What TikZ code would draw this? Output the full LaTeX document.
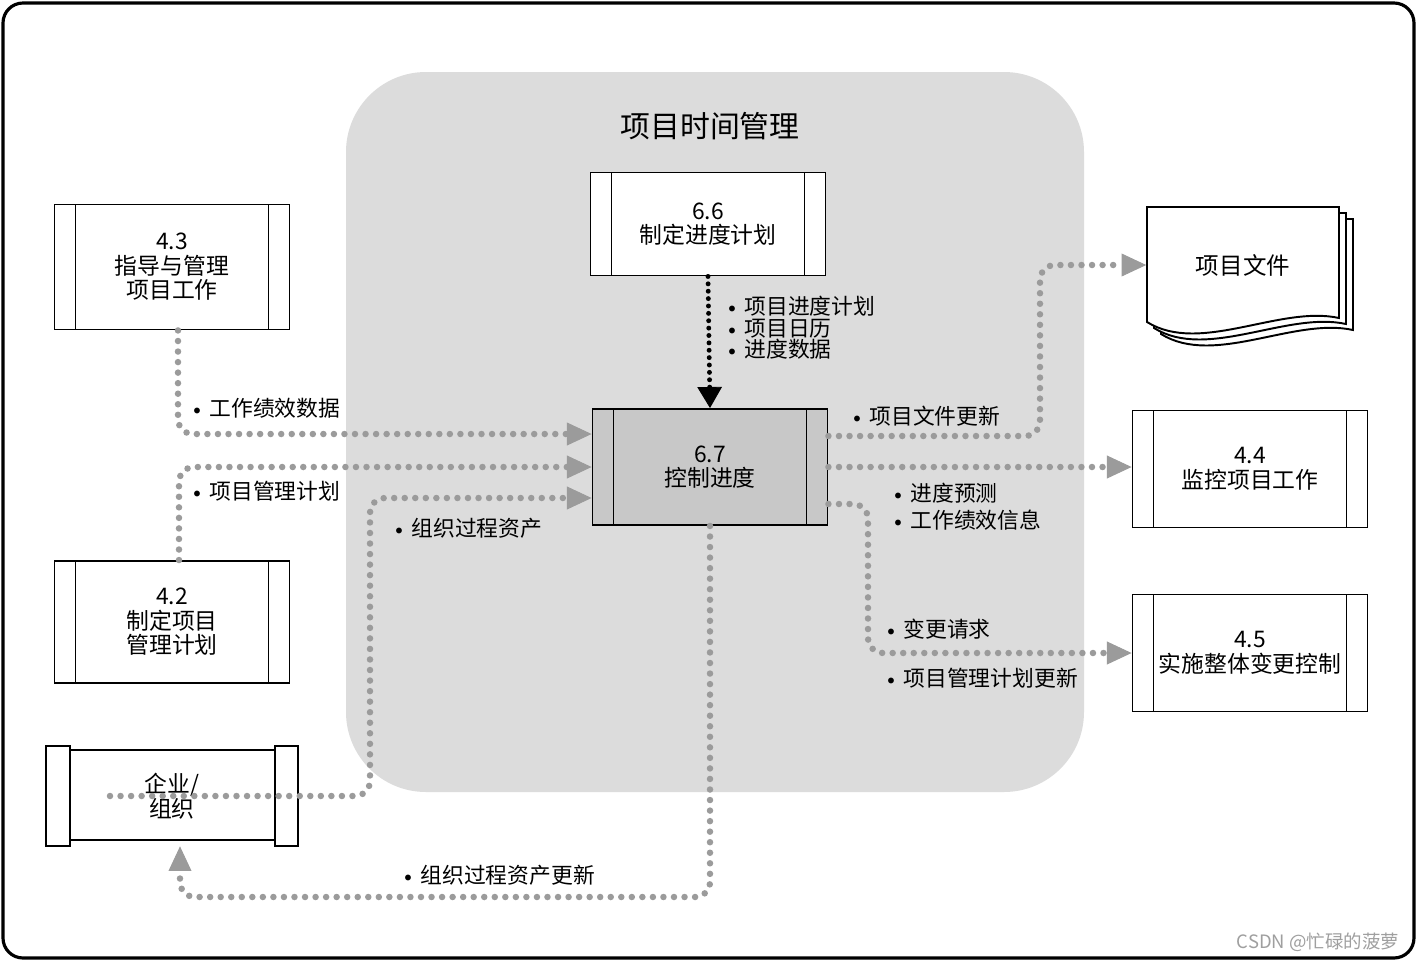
\documentclass[tikz,border=0pt]{standalone}
\usepackage{fontspec}
\setmainfont{Noto Sans CJK SC}
\usetikzlibrary{arrows.meta,calc}
\definecolor{zonegray}{RGB}{220,220,220}
\definecolor{boxgray}{RGB}{200,200,200}
\definecolor{dotgray}{RGB}{155,155,155}
\newcommand{\bul}{\raisebox{1.2pt}{\footnotesize$\bullet$}\hspace{5pt}}
\begin{document}
\begin{tikzpicture}[x=0.02cm,y=-0.02cm,
    proc/.style={draw,line width=1.1pt,fill=white,minimum width=4.7cm,align=center,
        font=\fontsize{13}{14}\selectfont,
        path picture={\draw[line width=1.1pt]
            ([xshift=0.42cm]path picture bounding box.north west) -- ([xshift=0.42cm]path picture bounding box.south west)
            ([xshift=-0.42cm]path picture bounding box.north east) -- ([xshift=-0.42cm]path picture bounding box.south east);}},
    lbl/.style={anchor=west,inner sep=0pt,align=left,font=\fontsize{12.4}{12.2}\selectfont},
    flow/.style={dotgray,line width=3.7pt,line cap=round,dash pattern=on 0pt off 6pt,rounded corners=0.3cm,
        -{Triangle[length=14pt,width=13pt,line width=0.5pt]}},
    blackflow/.style={black,line width=2.8pt,line cap=round,dash pattern=on 0pt off 4.2pt,
        -{Triangle[length=12pt,width=14pt,line width=0.5pt]}}]

    \useasboundingbox (0,0) rectangle (1418,961);
    \draw[line width=1.8pt,fill=white,rounded corners=0.4cm] (3,3) rectangle (1414,958);
    \fill[zonegray,rounded corners=1.6cm] (346,72) rectangle (1084,792);
    \node[font=\fontsize{17}{18}\selectfont] (title) at (710,126) {项目时间管理};

    \node[minimum width=5.04cm,minimum height=2cm,align=center,font=\fontsize{13}{14}\selectfont] (org) at (172,796) {企业/\\组织};
    \draw[line width=1.1pt] (org.north west) rectangle ($(org.south west)+(24,0)$);
    \draw[line width=1.1pt] ($(org.north west)+(24,4)$) rectangle ($(org.south east)+(-23,-6)$);
    \draw[line width=1.1pt] ($(org.north east)+(-23,0)$) rectangle (org.south east);

    \draw[line width=1.1pt,fill=white] (1161,219) -- (1353,219) -- (1353,330) .. controls (1294,317) and (1214,367) .. (1161,334) -- cycle;
    \draw[line width=1.1pt,fill=white] (1154,213) -- (1346,213) -- (1346,324) .. controls (1287,311) and (1207,361) .. (1154,328) -- cycle;
    \draw[line width=1.1pt,fill=white] (1147,207) -- (1339,207) -- (1339,318) .. controls (1280,305) and (1200,355) .. (1147,322) -- cycle;
    \node[minimum width=3.86cm,minimum height=2.2cm,font=\fontsize{13.4}{14}\selectfont] (docs) at (1243,265) {项目文件};

    \node[proc,minimum height=2.5cm] (p43) at (172,267) {4.3\\指导与管理\\项目工作};
    \node[proc,minimum height=2.44cm] (p42) at (172,622) {4.2\\制定项目\\管理计划};
    \node[proc,minimum height=2.06cm] (p66) at (708,224) {6.6\\制定进度计划};
    \node[proc,fill=boxgray,minimum height=2.32cm] (p67) at (710,467) {6.7\\控制进度};
    \node[proc,minimum height=2.34cm] (p44) at (1250,469) {4.4\\监控项目工作};
    \node[proc,minimum height=2.34cm] (p45) at (1250,653) {4.5\\实施整体变更控制};

    \node[lbl] (l1) at (193,408) {\bul 工作绩效数据};
    \node[lbl] (l2) at (193,491) {\bul 项目管理计划};
    \node[lbl] (l3) at (395,528) {\bul 组织过程资产};
    \node[lbl] (l4) at (728,328) {\bul 项目进度计划\\\bul 项目日历\\\bul 进度数据};
    \node[lbl] (l5) at (853,416) {\bul 项目文件更新};
    \node[lbl] (l6) at (894,493) {\bul 进度预测};
    \node[lbl] (l7) at (894,520) {\bul 工作绩效信息};
    \node[lbl] (l8) at (887,629) {\bul 变更请求};
    \node[lbl] (l9) at (887,678) {\bul 项目管理计划更新};
    \node[lbl] (l10) at (404,875) {\bul 组织过程资产更新};

    \node[text=gray!75,font=\fontsize{10.5}{12}\selectfont] (wm) at (1318,942) {CSDN @忙碌的菠萝};

    \coordinate (orgs) at (110,796);
    \coordinate (ok) at (370,650);
    \coordinate (dk) at (1040,350);
    \coordinate (ck) at (868,580);
    \coordinate (bk) at (450,897);

    \draw[flow] ([xshift=0.12cm]p43.south) |- ([yshift=0.66cm]p67.west);
    \draw[flow] ([xshift=0.14cm]p42.north) |- (p67.west);
    \draw[flow] (orgs) -| (ok) |- ([yshift=-0.62cm]p67.west);
    \draw[flow] ([yshift=0.62cm]p67.east) -| (dk) |- (docs.west);
    \draw[flow] (p67.east) -- (p67.east -| p44.west);
    \draw[flow] ([yshift=-0.74cm]p67.east) -| (ck) |- (p45.west);
    \draw[flow] (p67.south) |- (bk) -| ([xshift=0.16cm]org.south);
    \draw[blackflow] (p66.south) -- (p67.north);

\end{tikzpicture}
\end{document}
